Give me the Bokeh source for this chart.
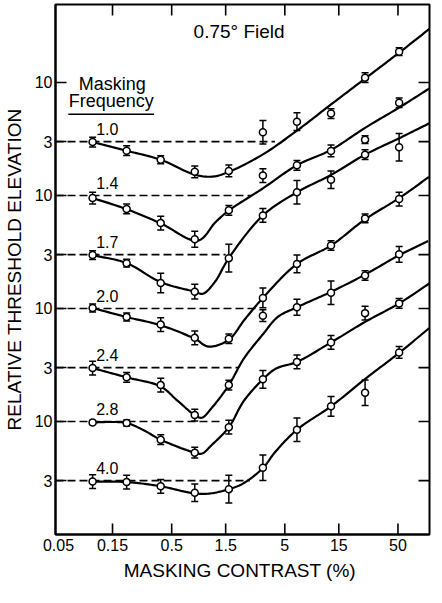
import numpy as np
from bokeh.plotting import figure
from bokeh.models import FixedTicker, Range1d, Label, CustomJSTickFormatter
from bokeh.embed import file_html
from bokeh.resources import INLINE

# ---------------- data ----------------
contrast = [0.1, 0.2, 0.4, 0.8, 1.6, 3.2, 6.4, 12.8, 25.6, 51.2]   # masking contrast (%)
freqs = ["1.0", "1.4", "1.7", "2.0", "2.4", "2.8", "4.0"]          # masking frequency (c/deg)
offsets = [3000, 1000, 300, 100, 30, 10, 3]                         # vertical stacking of curves
dash_end = [4.1, 2.5, 1.5, 2.8, 1.97, 1.37, 2.45]                   # where each dashed baseline ends

elev_10 = [0.99, 0.83, 0.69, 0.54, 0.55, 1.21, 1.50, 1.77, 3.68, 6.25]
elev_14 = [0.95, 0.76, 0.57, 0.41, 0.74, 1.50, 1.85, 2.48, 3.12, 6.62]
elev_17 = [0.99, 0.84, 0.56, 0.47, 0.93, 2.22, 3.56, 4.59, 7.66, 8.92]
elev_20 = [1.01, 0.84, 0.72, 0.55, 0.54, 1.24, 2.48, 3.61, 6.27, 9.29]
elev_24 = [0.99, 0.82, 0.70, 0.38, 0.70, 2.88, 3.42, 4.59, 6.53, 10.06]
elev_28 = [0.98, 0.97, 0.69, 0.53, 0.89, 2.36, 3.37, 5.01, 9.10, 11.1]
elev_40 = [0.98, 0.97, 0.89, 0.78, 0.84, 1.30, 2.82, 4.54, 5.98, 13.6]

# error bar half-widths, log10 units
err_10 = [0.043, 0.043, 0.035, 0.052, 0.052, 0.104, 0.078, 0.043, 0.043, 0.035]
err_14 = [0.052, 0.043, 0.061, 0.070, 0.043, 0.061, 0.043, 0.052, 0.035, 0.043]
err_17 = [0.039, 0.035, 0.087, 0.065, 0.122, 0.061, 0.104, 0.078, 0.043, 0.122]
err_20 = [0.035, 0.035, 0.061, 0.061, 0.043, 0.087, 0.078, 0.043, 0.039, 0.061]
err_24 = [0.061, 0.043, 0.061, 0.052, 0.043, 0.052, 0.070, 0.104, 0.043, 0.070]
err_28 = [0.017, 0.026, 0.043, 0.048, 0.061, 0.078, 0.061, 0.061, 0.061, 0.043]
err_40 = [0.061, 0.061, 0.061, 0.078, 0.122, 0.113, 0.104, 0.087, 0.113, 0.052]

# fitted curves
fit_x_10 = [0.1, 0.2, 0.4, 0.8, 1.15, 1.6, 3.2, 6.4, 12.8, 25.6, 51.2, 98]
fit_y_10 = [0.99, 0.83, 0.69, 0.51, 0.49, 0.54, 0.77, 1.25, 2.13, 3.61, 6.12, 10.2]
fit_x_14 = [0.1, 0.2, 0.4, 0.853, 1.22, 1.6, 3.2, 6.4, 12.8, 25.6, 51.2, 98]
fit_y_14 = [0.95, 0.757, 0.567, 0.399, 0.581, 0.736, 1.157, 1.853, 2.53, 3.97, 6.0, 9.05]
fit_x_17 = [0.1, 0.2, 0.4, 0.8, 0.942, 1.20, 1.6, 3.2, 6.4, 12.8, 25.6, 51.2, 96]
fit_y_17 = [0.99, 0.84, 0.57, 0.47, 0.45, 0.57, 0.93, 2.22, 3.56, 5.07, 7.66, 10.7, 14.6]
fit_x_20 = [0.1, 0.2, 0.4, 0.8, 1.06, 1.6, 2.21, 3.2, 6.4, 12.8, 25.6, 51.2, 94]
fit_y_20 = [1.01, 0.84, 0.71, 0.54, 0.46, 0.53, 0.80, 1.24, 2.48, 3.61, 6.15, 9.48, 14.6]
fit_x_24 = [0.1, 0.2, 0.4, 0.562, 0.8, 0.924, 1.13, 1.6, 2.17, 3.2, 4.34, 6.4, 12.8, 25.6, 51.2, 92.4]
fit_y_24 = [0.99, 0.82, 0.68, 0.51, 0.38, 0.36, 0.44, 0.70, 1.20, 1.97, 2.81, 3.42, 4.68, 6.66, 9.87, 13.2]
fit_x_28 = [0.1, 0.14, 0.2, 0.281, 0.4, 0.8, 0.924, 1.13, 1.6, 2.17, 3.2, 4.18, 6.4, 12.8, 25.6, 51.2, 96]
fit_y_28 = [0.98, 0.99, 0.97, 0.84, 0.69, 0.53, 0.52, 0.62, 0.89, 1.52, 2.36, 2.94, 3.37, 5.01, 7.61, 11.1, 16.8]
fit_x_40 = [0.1, 0.2, 0.4, 0.8, 1.10, 1.6, 2.13, 3.2, 4.09, 6.4, 12.8, 25.6, 51.2, 94.2]
fit_y_40 = [0.98, 0.97, 0.89, 0.77, 0.77, 0.84, 0.94, 1.29, 1.78, 2.82, 4.54, 7.92, 13.5, 22.3]

x_ticks = [0.05, 0.15, 0.5, 1.5, 5, 15, 50]          # labelled x ticks
x_tick_marks = [0.15, 0.5, 1.5, 5, 15, 50]           # x ticks that carry a tick mark
y_ticks = [3, 10, 30, 100, 300, 1000, 3000, 10000]

elevs = [elev_10, elev_14, elev_17, elev_20, elev_24, elev_28, elev_40]
errs = [err_10, err_14, err_17, err_20, err_24, err_28, err_40]
fits = [(fit_x_10, fit_y_10), (fit_x_14, fit_y_14), (fit_x_17, fit_y_17), (fit_x_20, fit_y_20),
        (fit_x_24, fit_y_24), (fit_x_28, fit_y_28), (fit_x_40, fit_y_40)]


def smooth(xs, ys, n=14, alpha=0.5):
    """Centripetal Catmull-Rom through the read curve samples (log-log space)."""
    P = np.column_stack([np.log10(xs), np.log10(ys)])
    P = np.vstack([2 * P[0] - P[1], P, 2 * P[-1] - P[-2]])
    out = []
    for i in range(1, len(P) - 2):
        p0, p1, p2, p3 = P[i - 1], P[i], P[i + 1], P[i + 2]
        t0 = 0.0
        t1 = t0 + np.linalg.norm(p1 - p0) ** alpha
        t2 = t1 + np.linalg.norm(p2 - p1) ** alpha
        t3 = t2 + np.linalg.norm(p3 - p2) ** alpha
        for t in np.linspace(t1, t2, n, endpoint=False):
            A1 = (t1 - t) / (t1 - t0) * p0 + (t - t0) / (t1 - t0) * p1
            A2 = (t2 - t) / (t2 - t1) * p1 + (t - t1) / (t2 - t1) * p2
            A3 = (t3 - t) / (t3 - t2) * p2 + (t - t2) / (t3 - t2) * p3
            B1 = (t2 - t) / (t2 - t0) * A1 + (t - t0) / (t2 - t0) * A2
            B2 = (t3 - t) / (t3 - t1) * A2 + (t - t1) / (t3 - t1) * A3
            out.append((t2 - t) / (t2 - t1) * B1 + (t - t1) / (t2 - t1) * B2)
    out.append(P[-2])
    out = np.array(out)
    return 10 ** out[:, 0], 10 ** out[:, 1]


FONT = "Liberation Sans"
X0, X1 = 0.047, 95
Y0, Y1 = 1.0, 49000
FW, FH = 374, 530          # frame size in px
TICK = 11                  # inward tick length in px

p = figure(frame_width=FW, frame_height=FH, x_axis_type="log", y_axis_type="log",
           x_range=Range1d(X0, X1), y_range=Range1d(Y0, Y1),
           output_backend="svg", toolbar_location=None,
           min_border_left=0, min_border_right=2, min_border_top=4, min_border_bottom=0)
p.grid.visible = False
p.outline_line_color = "black"
p.outline_line_width = 2
p.outline_line_alpha = 1.0
p.background_fill_color = "white"

xfmt = CustomJSTickFormatter(code="return tick.toString();")
yfmt = CustomJSTickFormatter(code="return tick.toString()[0] == '3' ? '3' : '10';")

for ax, ticks, fmt in ((p.xaxis[0], x_ticks, xfmt), (p.yaxis[0], y_ticks, yfmt)):
    ax.ticker = FixedTicker(ticks=ticks, minor_ticks=[])
    ax.formatter = fmt
    ax.major_tick_out = 0
    ax.minor_tick_line_color = None
    ax.major_tick_line_width = 1.6
    ax.major_tick_line_color = "black"
    ax.axis_line_width = 2
    ax.axis_line_color = "black"
    ax.major_label_text_font = FONT
    ax.major_label_text_font_size = "16px"
    ax.major_label_text_color = "black"
    ax.axis_label_text_font = FONT
    ax.axis_label_text_font_size = "19px"
    ax.axis_label_text_font_style = "normal"
    ax.axis_label_text_color = "black"
p.xaxis[0].major_tick_in = 0          # x tick marks drawn below (no mark at 0.05)
p.yaxis[0].major_tick_in = TICK
p.xaxis[0].axis_label = "MASKING CONTRAST  (%)"
p.yaxis[0].axis_label = "RELATIVE THRESHOLD ELEVATION"
p.xaxis[0].major_label_standoff = 4
p.xaxis[0].axis_label_standoff = 6
p.yaxis[0].major_label_standoff = 3
p.yaxis[0].axis_label_standoff = 7

# inward tick marks on bottom, top and right edges: TICK px long, converted through the log scales
kx = 10 ** (TICK * np.log10(X1 / X0) / FW)
ky = 10 ** (TICK * np.log10(Y1 / Y0) / FH)
nx, ny = len(x_tick_marks), len(y_ticks)
tk = dict(line_color="black", line_width=1.6)
p.segment(x0=x_tick_marks, y0=[Y0 * 1.001] * nx, x1=x_tick_marks, y1=[Y0 * ky] * nx, **tk)
p.segment(x0=x_tick_marks, y0=[Y1 / 1.001] * nx, x1=x_tick_marks, y1=[Y1 / ky] * nx, **tk)
p.segment(x0=[X1 / 1.001] * ny, y0=y_ticks, x1=[X1 / kx] * ny, y1=y_ticks, **tk)

for f, off, de, ev, er, (fx, fy) in zip(freqs, offsets, dash_end, elevs, errs, fits):
    # dashed baseline
    p.line([X0, de], [off, off], line_color="black", line_width=1.6, line_dash="8 4")
    # fitted curve
    sx, sy = smooth(fx, fy)
    p.line(sx, off * sy, line_color="black", line_width=2.2)
    # data with error bars
    y = np.array(ev) * off
    fac = 10 ** np.array(er)
    lo, hi = y / fac, y * fac
    p.segment(x0=contrast, y0=lo, x1=contrast, y1=hi, line_color="black", line_width=1.5)
    p.scatter(contrast, hi, marker="dash", size=7, line_color="black", line_width=1.5)
    p.scatter(contrast, lo, marker="dash", size=7, line_color="black", line_width=1.5)
    p.scatter(contrast, y, marker="circle", size=7, fill_color="white",
              line_color="black", line_width=1.5)
    # frequency label
    p.add_layout(Label(x=0.135, y=off * 1.30, text=f, text_align="center", text_baseline="middle",
                       text_font=FONT, text_font_size="16px", text_color="black"))

p.add_layout(Label(x=2.08, y=28200, text="0.75°  Field", text_align="center", text_baseline="middle",
                   text_font=FONT, text_font_size="19px", text_color="black"))
p.add_layout(Label(x=0.149, y=9700, text="Masking", text_align="center", text_baseline="middle",
                   text_font=FONT, text_font_size="18px", text_color="black"))
p.add_layout(Label(x=0.146, y=6830, text="Frequency", text_align="center", text_baseline="middle",
                   text_font=FONT, text_font_size="18px", text_color="black"))
p.line([0.061, 0.349], [5240, 5240], line_color="black", line_width=1.5)

open("out.html", "w").write(file_html(p, INLINE))
